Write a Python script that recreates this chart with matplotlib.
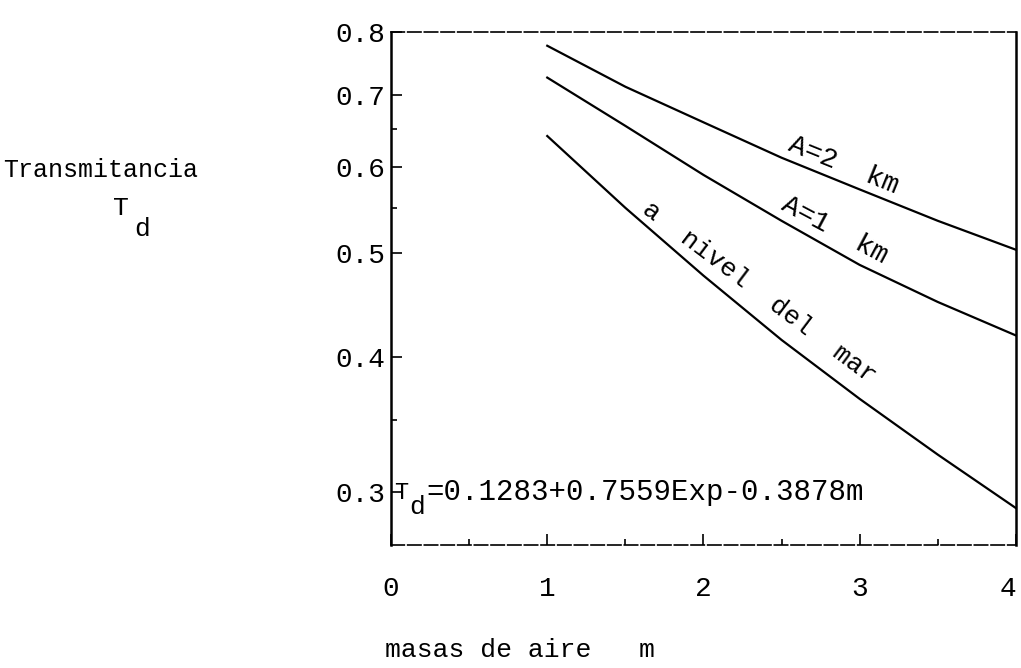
import matplotlib
matplotlib.use('Agg')
import matplotlib.pyplot as plt
from matplotlib.ticker import FixedLocator, FixedFormatter, NullFormatter

plt.rcParams['font.family'] = ['Liberation Mono', 'DejaVu Sans Mono']

# air masses and transmittance
m = [1.0, 1.5, 2.0, 2.5, 3.0, 3.5, 4.0]
t_2km = [0.777, 0.712, 0.660, 0.612, 0.572, 0.535, 0.503]
t_1km = [0.726, 0.655, 0.590, 0.535, 0.487, 0.450, 0.419]
t_mar = [0.641, 0.550, 0.476, 0.415, 0.366, 0.325, 0.290]

yticks = [0.3, 0.4, 0.5, 0.6, 0.7, 0.8]
yminor = [0.35, 0.55, 0.65]
xticks = [0, 1, 2, 3, 4]
xminor = [0.5, 1.5, 2.5, 3.5]

fig = plt.figure(figsize=(10.21, 6.68), dpi=100)
ax = fig.add_axes((0.383, 0.184, 0.612, 0.768))

for t in (t_2km, t_1km, t_mar):
	ax.plot(m, t, '-', color='black', lw=1.6)

ax.set_yscale('log')
ax.set_xlim(0, 4)
ax.set_ylim(0.268, 0.80)

ax.yaxis.set_major_locator(FixedLocator(yticks))
ax.yaxis.set_minor_locator(FixedLocator(yminor))
ax.yaxis.set_major_formatter(FixedFormatter([f'{v:.1f}' for v in yticks]))
ax.yaxis.set_minor_formatter(NullFormatter())
ax.xaxis.set_major_locator(FixedLocator(xticks))
ax.xaxis.set_minor_locator(FixedLocator(xminor))

ax.tick_params(axis='both', which='major', direction='in', length=8, width=1.2, labelsize=20)
ax.tick_params(axis='both', which='minor', direction='in', length=4, width=1.2)
ax.tick_params(axis='x', which='major', pad=22)
ax.tick_params(axis='y', which='major', pad=4)
# last x label sits against the right edge, as in the scan
ax.xaxis.get_major_ticks()[-1].label1.set_horizontalalignment('right')

for s in ('left', 'right'):
	ax.spines[s].set_linewidth(1.8)
for s in ('top', 'bottom'):
	ax.spines[s].set_linewidth(1.2)
	ax.spines[s].set_linestyle((0, (8, 2)))

# curve labels
ax.text(2.90, 0.602, 'A=2  km', rotation=-22, ha='center', va='center', fontsize=20)
ax.text(2.84, 0.525, 'A=1  km', rotation=-28, ha='center', va='center', fontsize=20)
ax.text(2.36, 0.459, 'a  nivel  del  mar', rotation=-37, ha='center', va='center', fontsize=19)

# fitted formula, typed with a lowered "d"
ax.text(0.02, 0.3, 'T', ha='left', va='center', fontsize=17)
ax.annotate('d', xy=(0.02, 0.3), xytext=(11, -11), textcoords='offset points',
			ha='left', va='center', fontsize=19)
ax.annotate('=0.1283+0.7559Exp-0.3878m', xy=(0.02, 0.3), xytext=(23, 0), textcoords='offset points',
			ha='left', va='center', fontsize=21)

fig.text(0.099, 0.746, 'Transmitancia', ha='center', va='center', fontsize=18)
fig.text(0.1185, 0.689, 'T', ha='center', va='center', fontsize=19)
fig.text(0.139, 0.657, 'd', ha='center', va='center', fontsize=19)

fig.text(0.377, 0.027, 'masas de aire   m', ha='left', va='center', fontsize=19)

fig.savefig('out.png', dpi=100)
